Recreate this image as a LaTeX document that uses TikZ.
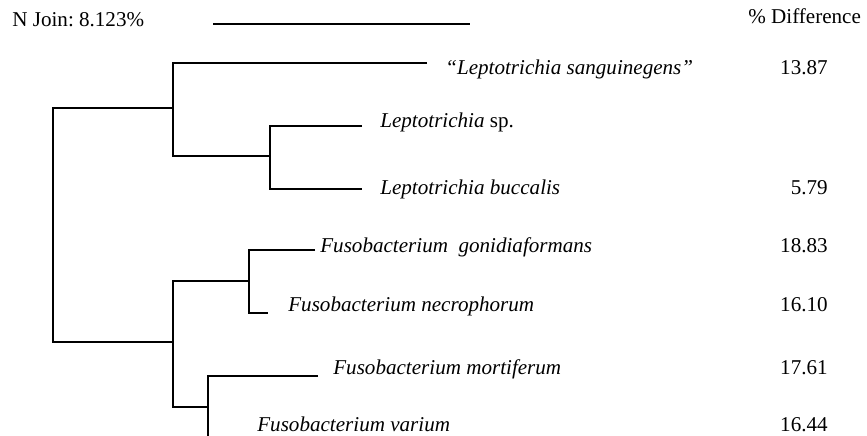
\documentclass[tikz,border=0pt]{standalone}
\usepackage{fontspec}
\setmainfont{Liberation Serif}
\usepackage{tikz}
\usepackage{xcolor}
\usetikzlibrary{positioning, calc}
\definecolor{TreeBlack}{HTML}{000000}
\frenchspacing
\tikzset{
    % Text styles
    header/.style={
        font=\fontsize{12}{14}\selectfont,
        inner sep=0pt
    },
    taxon/.style={
        anchor=base west,
        font=\fontsize{12}{14}\selectfont\itshape,
        inner sep=0pt
    },
    diff/.style={
        anchor=base east,
        font=\fontsize{12}{14}\selectfont,
        inner sep=0pt
    },
    % Line styles - square elbows only
    branch/.style={
        line width=1.1pt,
        draw=TreeBlack
    },
    scalebar/.style={
        line width=1.1pt,
        draw=TreeBlack
    }
}

\begin{document}
\begin{tikzpicture}
    \clip (0,0) rectangle (17.34,8.72);

    % Header
    \node[header, anchor=base west] (join) at (0.24,8.18) {N Join: 8.123\%};
    \coordinate (barL) at (4.26,8.24);
    \coordinate (barR) at (9.40,8.24);
    \draw[scalebar] (barL) -- (barR);
    \node[header, anchor=base west] (diffhead) at (14.96,8.24) {\% Difference};

    % Internal nodes
    \coordinate (nRoot) at (1.06,4.22);
    \coordinate (nA) at (3.46,6.56);
    \coordinate (nB) at (5.40,5.60);
    \coordinate (nC) at (3.46,1.88);
    \coordinate (nD) at (4.98,3.10);
    \coordinate (nE) at (4.16,0.58);

    % Branch tips
    \coordinate (tSang) at (8.54,7.46);
    \coordinate (tSp) at (7.24,6.20);
    \coordinate (tBuc) at (7.24,4.94);
    \coordinate (tGon) at (6.30,3.72);
    \coordinate (tNec) at (5.36,2.46);
    \coordinate (tMor) at (6.36,1.20);
    \coordinate (tVar) at (5.00,-0.10);

    % Tree
    \draw[branch] (nA) -| (nRoot) |- (nC);
    \draw[branch] (tSang) -| (nA) |- (nB);
    \draw[branch] (tSp) -| (nB) |- (tBuc);
    \draw[branch] (nD) -| (nC) |- (nE);
    \draw[branch] (tGon) -| (nD) |- (tNec);
    \draw[branch] (tMor) -| (nE) |- (tVar);

    % Taxa
    \node[taxon] (sang) at (8.90,7.22) {“Leptotrichia sanguinegens”};
    \node[taxon] (sp) at (7.60,6.16) {Leptotrichia \textup{sp.}};
    \node[taxon] (buc) at (7.60,4.82) {Leptotrichia buccalis};
    \node[taxon] (gon) at (6.40,3.66) {Fusobacterium\ \ gonidiaformans};
    \node[taxon] (nec) at (5.76,2.48) {Fusobacterium necrophorum};
    \node[taxon] (mor) at (6.66,1.22) {Fusobacterium mortiferum};
    \node[taxon] (var) at (5.14,0.08) {Fusobacterium varium};

    % Percent differences
    \node[diff] (dSang) at (16.56,7.22) {13.87};
    \node[diff] (dBuc) at (16.56,4.82) {5.79};
    \node[diff] (dGon) at (16.56,3.66) {18.83};
    \node[diff] (dNec) at (16.56,2.48) {16.10};
    \node[diff] (dMor) at (16.56,1.22) {17.61};
    \node[diff] (dVar) at (16.56,0.08) {16.44};
\end{tikzpicture}
\end{document}
